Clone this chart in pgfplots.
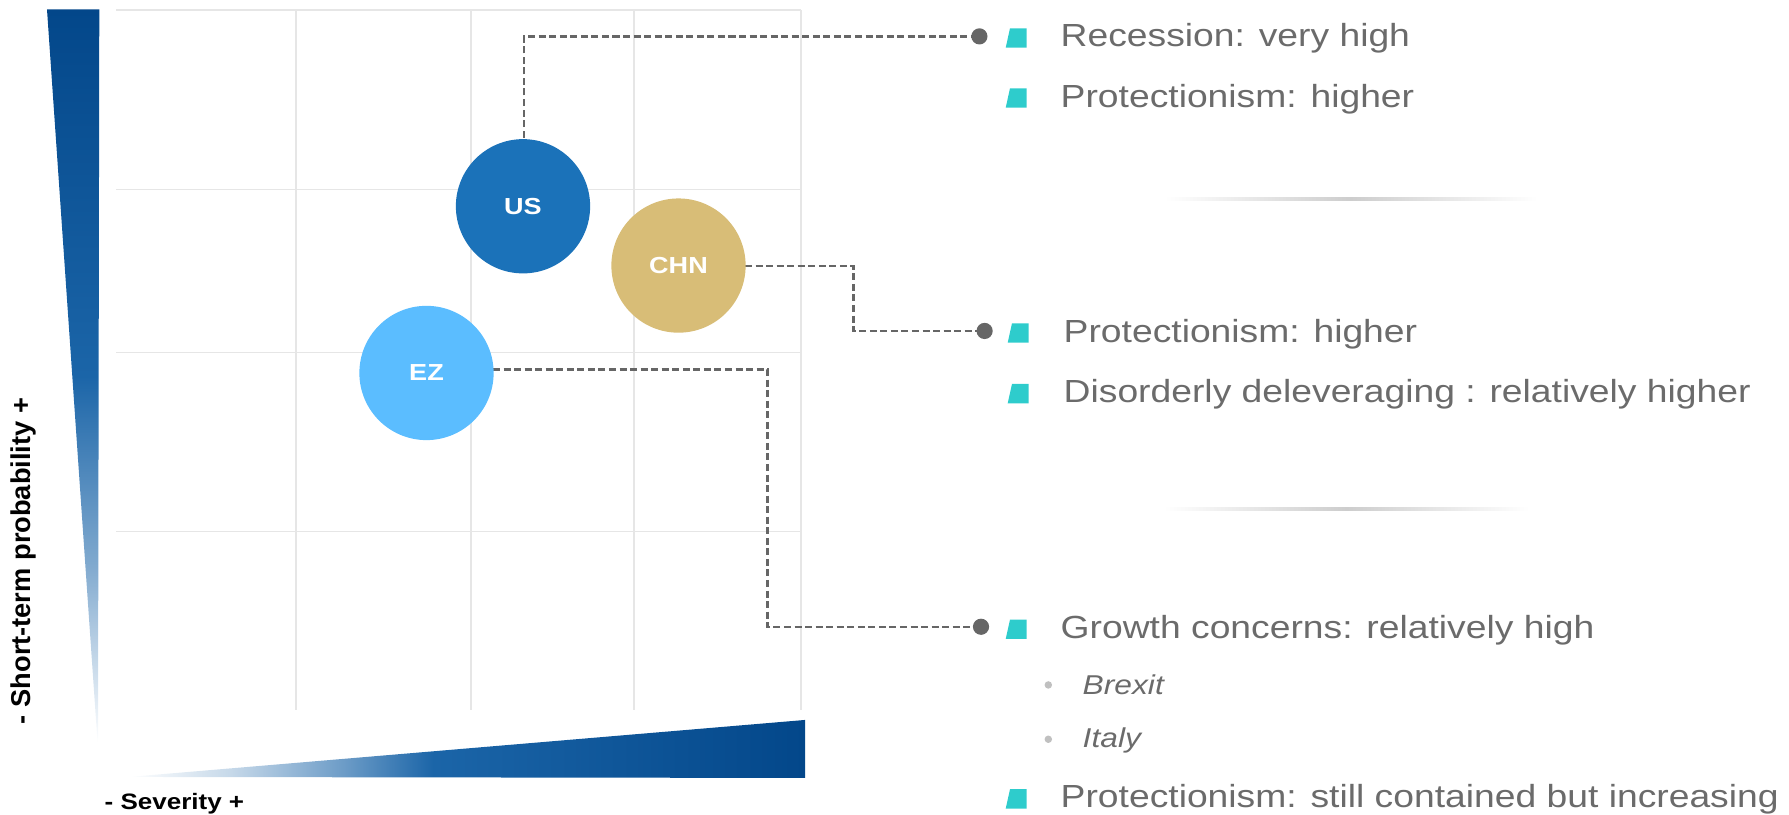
\documentclass[border=0pt]{standalone}
\usepackage{fontspec}
\setmainfont{Liberation Sans}[FakeStretch=1.165]
\newfontfamily\plainfont{Liberation Sans}
\usepackage{pgfplots}
\pgfplotsset{compat=1.18}

\definecolor{usblue}{HTML}{1B72B9}
\definecolor{chngold}{HTML}{D8BD77}
\definecolor{ezblue}{HTML}{5BBDFF}
\definecolor{navy}{HTML}{03478A}
\definecolor{midblue}{HTML}{1B65A8}
\definecolor{bulletcyan}{HTML}{2ECCCC}
\definecolor{txtgray}{HTML}{6B6B6B}
\definecolor{dashgray}{HTML}{666666}
\definecolor{gridgray}{HTML}{E6E6E6}
\definecolor{sepgray}{HTML}{CDCDCD}
\definecolor{subdot}{HTML}{C0C0C0}

% gradient wedges along the two axes (tikz fits 25bp..75bp onto the path)
\pgfdeclareverticalshading{probshade}{100bp}{color(0bp)=(white); color(25bp)=(white); color(37bp)=(white!45!midblue); color(50bp)=(midblue); color(75bp)=(navy); color(100bp)=(navy)}
\pgfdeclarehorizontalshading{sevshade}{100bp}{color(0bp)=(white); color(25bp)=(white); color(32.5bp)=(white!75!midblue); color(41bp)=(white!35!midblue); color(47.5bp)=(midblue); color(75bp)=(navy); color(100bp)=(navy)}

\begin{document}
\begin{tikzpicture}[
    main text/.style={anchor=base west, inner sep=0pt, text=txtgray, font=\fontsize{9.1}{11}\selectfont},
    sub text/.style={anchor=base west, inner sep=0pt, text=txtgray, font=\itshape\fontsize{7.75}{9}\selectfont},
    conn/.style={draw=dashgray, line width=0.65pt, dash pattern=on 2pt off 1pt},
]
\begin{axis}[
    at={(0,0)}, anchor=south west,
    width=6.85cm, height=7.0cm, scale only axis,
    xmin=116, xmax=801, ymin=105, ymax=805,
    xtick={296,471,634,801}, ytick={283,462,625,805},
    xticklabels={}, yticklabels={},
    tick style={draw=none},
    axis line style={draw=none},
    grid=major,
    major grid style={draw=gridgray, line width=0.3pt},
    clip=false,
    bubble label/.style={every node near coord/.append style={anchor=center, inner sep=0pt, text=white, font=\bfseries\fontsize{6.6}{8}\selectfont}},
]

%% axis wedges
\addplot[draw=none, shade, shading=probshade] coordinates {(47,805.6) (99.3,805.6) (98,72) (97.6,72)};
\addplot[draw=none, shade, shading=sevshade] coordinates {(129,38) (805,37) (805,95)};

%% dashed connectors
\addplot[conn] coordinates {(524,677.3) (524,778.6) (979.4,778.6)};
\addplot[conn] coordinates {(745,549) (853.6,549) (853.6,484) (984.6,484)};
\addplot[conn] coordinates {(493,445.5) (767.5,445.5) (767.5,188.2) (981,188.2)};
\addplot[only marks, mark=*, mark size=2.1pt, mark options={draw=dashgray, fill=dashgray}] coordinates {(979.4,778.6) (984.6,484) (981,188.2)};

%% bubbles
\addplot[only marks, mark=*, mark size=18.9pt, mark options={draw=usblue, fill=usblue}, nodes near coords={US}, bubble label] coordinates {(523,608.7)};
\addplot[only marks, mark=*, mark size=18.9pt, mark options={draw=chngold, fill=chngold}, nodes near coords={CHN}, bubble label] coordinates {(678.5,549.4)};
\addplot[only marks, mark=*, mark size=18.9pt, mark options={draw=ezblue, fill=ezblue}, nodes near coords={EZ}, bubble label] coordinates {(426.5,442)};

%% separators
\addplot[draw=none, left color=white, right color=white, middle color=sepgray] coordinates {(1165,617.2) (1537,617.2) (1537,614.2) (1165,614.2)};
\addplot[draw=none, left color=white, right color=white, middle color=sepgray] coordinates {(1164,307.5) (1529,307.5) (1529,304.5) (1164,304.5)};

%% cyan bullets
\addplot[draw=none, fill=bulletcyan] coordinates {(1005.7,767.3) (1026.7,767.3) (1026.7,786.7) (1010,786.7)};
\addplot[draw=none, fill=bulletcyan] coordinates {(1005.7,707.3) (1026.7,707.3) (1026.7,726.7) (1010,726.7)};
\addplot[draw=none, fill=bulletcyan] coordinates {(1007.7,472.3) (1028.7,472.3) (1028.7,491.7) (1012,491.7)};
\addplot[draw=none, fill=bulletcyan] coordinates {(1007.7,411.7) (1028.7,411.7) (1028.7,431.1) (1012,431.1)};
\addplot[draw=none, fill=bulletcyan] coordinates {(1005.7,176) (1026.7,176) (1026.7,195.4) (1010,195.4)};
\addplot[draw=none, fill=bulletcyan] coordinates {(1005.7,6.3) (1026.7,6.3) (1026.7,25.7) (1010,25.7)};
\addplot[only marks, mark=*, mark size=0.85pt, mark options={draw=subdot, fill=subdot}] coordinates {(1048.3,130) (1048.3,75.7)};

%% texts
\node[main text] at (axis cs:1060,768.3) {Recession: very high};
\node[main text] at (axis cs:1060,707.7) {Protectionism: higher};
\node[main text] at (axis cs:1063,472.5) {Protectionism: higher};
\node[main text] at (axis cs:1063,412) {Disorderly deleveraging : relatively higher};
\node[main text] at (axis cs:1060,176) {Growth concerns: relatively high};
\node[sub text] at (axis cs:1082,120) {Brexit};
\node[sub text] at (axis cs:1082,67) {Italy};
\node[main text] at (axis cs:1060,7) {Protectionism: still contained but increasing};

\node[rotate=90, anchor=base, inner sep=0pt, font=\plainfont\bfseries\fontsize{7.75}{9}\selectfont] at (axis cs:31,254) {- Short-term probability +};
\node[anchor=base west, inner sep=0pt, font=\bfseries\fontsize{6.35}{8}\selectfont] at (axis cs:104,5) {- Severity +};

\coordinate (BL) at (axis cs:0,0);
\coordinate (TR) at (axis cs:1789,815);
\end{axis}
\pgfresetboundingbox
\useasboundingbox (BL) rectangle (TR);
\end{tikzpicture}
\end{document}
